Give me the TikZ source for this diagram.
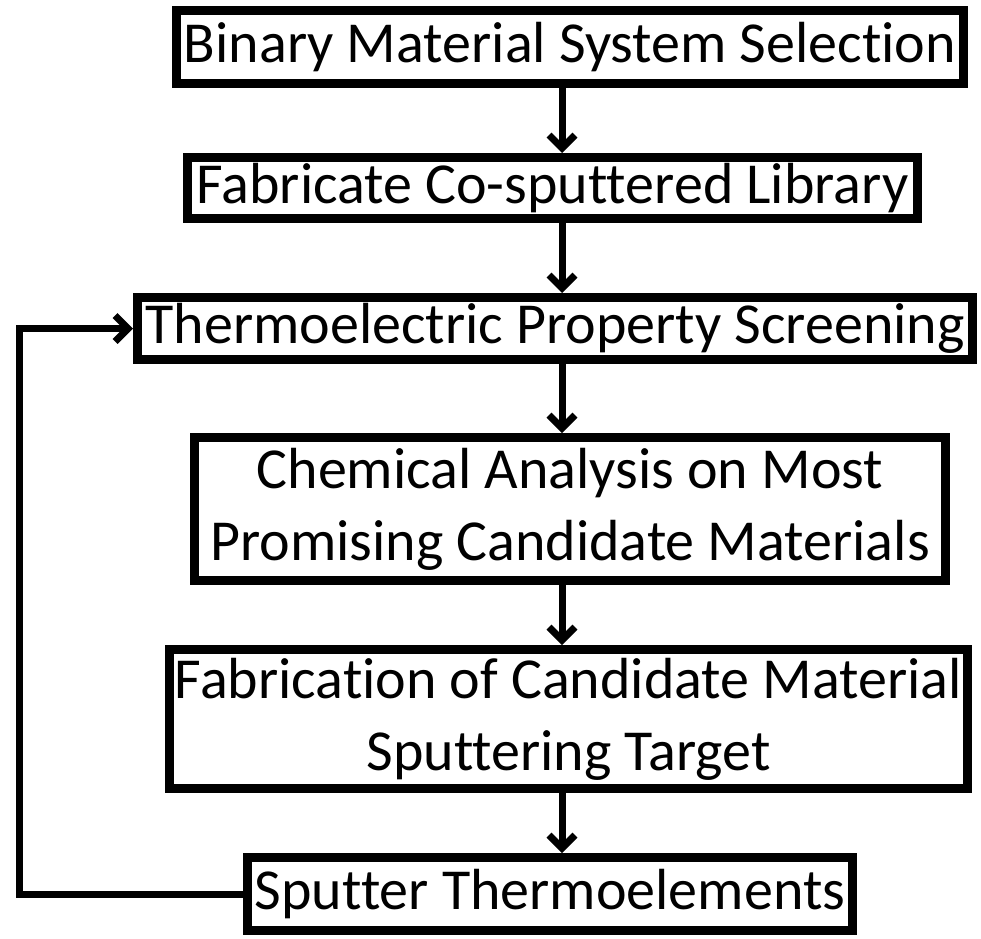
\documentclass[tikz,border=0pt]{standalone}
\usepackage{fontspec}
\setmainfont{Carlito}[Ligatures={NoCommon}]
\usetikzlibrary{arrows.meta}
\begin{document}
\begin{tikzpicture}[x=1pt,y=-1pt,
  box/.style={draw=black,line width=9pt,fill=white,inner sep=0pt,align=center,
    font=\fontsize{58}{72}\selectfont},
  flow/.style={line width=7pt,-{Straight Barb[length=13pt,width=26pt]}}]
\useasboundingbox[fill=white] (0,0) rectangle (981,938);
\node[box,minimum width=787pt,minimum height=73pt] (b1) at (570,47) {Binary Material System Selection};
\node[box,minimum width=730pt,minimum height=61pt] (b2) at (552.5,188) {Fabricate Co-sputtered Library};
\node[box,minimum width=835pt,minimum height=62pt] (b3) at (555,328.5) {Thermoelectric Property Screening};
\node[box,minimum width=751pt,minimum height=143pt] (b4) at (570,509) {Chemical Analysis on Most\\Promising Candidate Materials};
\node[box,minimum width=798pt,minimum height=139pt] (b5) at (568.5,719) {Fabrication of Candidate Material\\Sputtering Target};
\node[box,minimum width=605pt,minimum height=73pt] (b6) at (550,894) {Sputter Thermoelements};
\coordinate (ax) at (562,0);
\draw[flow] (b1.south -| ax) -- (b2.north -| ax);
\draw[flow] (b2.south -| ax) -- (b3.north -| ax);
\draw[flow] (b3.south -| ax) -- (b4.north -| ax);
\draw[flow] (b4.south -| ax) -- (b5.north -| ax);
\draw[flow] (b5.south -| ax) -- (b6.north -| ax);
\coordinate (lx) at (19,0);
\draw[flow,line join=miter] (b6.west) -- (b6.west -| lx) -- (lx |- b3.west) -- (b3.west);
\end{tikzpicture}
\end{document}
